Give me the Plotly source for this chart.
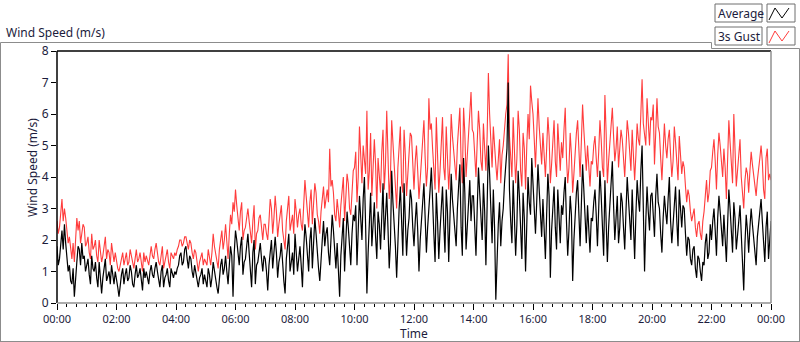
import plotly.graph_objects as go

# Time axis (hours after midnight, 2.5-minute steps, 00:00 .. 24:00)
tick_hours = [0, 2, 4, 6, 8, 10, 12, 14, 16, 18, 20, 22, 24]
tick_labels = ["00:00", "02:00", "04:00", "06:00", "08:00", "10:00", "12:00",
               "14:00", "16:00", "18:00", "20:00", "22:00", "00:00"]
y_ticks = [0, 1, 2, 3, 4, 5, 6, 7, 8]

# Average wind speed (m/s), 24 readings per hour
average = [
    1.8, 1.2, 1.4, 2.0, 2.3, 1.7, 2.5, 1.9, 1.5, 1.0, 1.2, 0.7, 0.6, 1.1, 0.2, 0.9, 1.3, 1.8, 1.7, 1.2, 1.9, 1.4, 1.5, 1.0,
    1.2, 1.4, 0.9, 0.6, 1.5, 1.1, 1.0, 1.3, 0.8, 0.5, 1.3, 0.9, 0.3, 0.8, 1.1, 1.4, 0.7, 0.9, 1.0, 0.6, 1.2, 0.9, 0.6, 1.0,
    0.8, 0.5, 0.2, 0.7, 0.9, 1.1, 0.6, 0.9, 1.1, 0.7, 0.8, 1.2, 1.0, 0.6, 0.5, 0.9, 1.2, 0.8, 0.9, 1.1, 0.7, 0.4, 1.1, 0.8,
    1.0, 0.8, 0.6, 1.0, 1.2, 0.9, 0.8, 1.1, 1.3, 1.0, 0.7, 0.5, 1.0, 1.2, 0.5, 0.8, 0.9, 1.1, 0.7, 0.5, 1.1, 0.9, 0.8, 1.0,
    0.9, 1.1, 1.2, 1.5, 1.6, 1.2, 1.3, 1.7, 1.8, 1.4, 1.1, 1.5, 1.4, 1.0, 0.8, 1.2, 1.0, 0.7, 0.5, 0.8, 0.9, 1.1, 0.6, 0.9,
    0.7, 0.5, 1.1, 0.9, 0.5, 0.8, 1.3, 1.0, 0.8, 0.5, 0.3, 0.9, 1.2, 1.4, 0.9, 1.1, 1.5, 1.0, 0.6, 1.2, 1.8, 1.5, 0.2, 1.6,
    2.3, 2.0, 1.5, 1.2, 1.8, 2.1, 0.9, 1.3, 1.4, 1.8, 2.2, 1.6, 1.1, 0.5, 1.6, 2.0, 0.6, 1.2, 1.3, 1.7, 1.9, 1.4, 1.0, 1.5,
    1.4, 1.0, 0.4, 1.2, 1.7, 2.0, 1.1, 1.5, 2.1, 1.6, 0.8, 1.3, 1.5, 1.9, 1.2, 0.7, 0.3, 1.4, 1.8, 2.2, 1.0, 1.3, 1.6, 0.9,
    2.2, 1.6, 1.0, 1.4, 1.8, 1.2, 0.5, 1.7, 2.5, 2.1, 1.4, 1.0, 2.0, 2.4, 1.1, 1.8, 2.7, 2.2, 1.5, 1.1, 0.7, 1.5, 2.0, 2.6,
    1.8, 2.2, 2.4, 1.6, 1.2, 2.0, 2.8, 2.3, 1.5, 1.1, 1.9, 1.0, 0.2, 1.5, 2.3, 2.7, 1.0, 1.9, 2.9, 2.4, 1.6, 1.2, 2.2, 2.8,
    2.6, 3.1, 1.2, 2.2, 3.4, 2.7, 2.0, 3.3, 4.0, 2.4, 0.3, 1.6, 2.8, 3.5, 1.8, 2.5, 3.2, 2.1, 1.4, 2.9, 2.5, 1.7, 3.0, 3.8,
    2.0, 2.8, 3.5, 2.4, 1.1, 1.9, 4.2, 3.2, 2.6, 1.8, 0.8, 2.1, 3.0, 3.7, 2.2, 1.5, 3.8, 2.9, 1.5, 2.3, 2.7, 3.6, 3.3, 2.4,
    1.8, 2.6, 3.2, 2.3, 1.0, 2.0, 2.5, 3.1, 3.8, 2.7, 1.6, 2.4, 2.9, 3.6, 4.3, 3.0, 2.2, 1.3, 3.5, 2.6, 1.4, 2.3, 3.0, 3.7,
    2.5, 1.6, 3.6, 2.9, 1.3, 2.4, 4.1, 3.3, 2.8, 2.0, 1.8, 3.0, 3.9, 4.4, 2.4, 1.5, 4.6, 3.5, 1.7, 2.6, 3.2, 3.9, 2.6, 3.4,
    3.4, 2.6, 1.5, 3.0, 4.3, 3.5, 2.7, 2.0, 3.8, 2.9, 1.2, 3.3, 5.0, 4.1, 2.8, 1.9, 3.6, 2.4, 0.1, 1.6, 2.5, 3.2, 1.8, 2.6,
    3.0, 3.8, 4.5, 4.9, 7.0, 3.6, 2.6, 1.9, 3.9, 2.8, 1.5, 2.5, 4.2, 3.4, 2.2, 1.4, 3.5, 2.7, 1.0, 2.9, 4.0, 3.2, 2.8, 4.6,
    3.8, 3.0, 2.2, 3.2, 4.4, 3.6, 2.9, 2.1, 3.3, 2.5, 1.4, 2.8, 4.1, 3.4, 0.8, 2.3, 3.0, 3.7, 2.4, 1.7, 3.6, 2.7, 1.9, 3.1,
    2.8, 3.5, 4.0, 2.6, 1.5, 2.3, 3.4, 2.8, 0.7, 2.0, 2.9, 3.5, 3.9, 2.7, 1.8, 3.1, 4.4, 3.6, 2.5, 1.9, 3.1, 2.4, 1.6, 2.7,
    2.6, 3.2, 3.6, 2.8, 1.8, 3.0, 4.2, 3.4, 2.2, 1.5, 3.9, 2.6, 1.3, 2.4, 3.0, 3.8, 4.5, 3.1, 2.0, 2.7, 3.4, 1.9, 2.4, 3.5,
    3.2, 2.4, 1.7, 2.9, 4.0, 3.3, 2.6, 2.0, 3.6, 2.7, 1.4, 2.8, 3.9, 3.3, 2.9, 4.2, 5.0, 3.0, 1.0, 2.6, 3.7, 2.9, 2.3, 3.4,
    3.5, 2.8, 2.1, 3.4, 4.1, 3.2, 3.0, 2.2, 1.6, 2.7, 3.4, 2.9, 2.5, 3.3, 4.0, 2.6, 1.9, 2.5, 3.1, 3.7, 2.6, 1.8, 3.6, 2.9,
    2.4, 3.1, 3.0, 2.2, 1.5, 2.1, 2.0, 1.4, 1.2, 1.7, 1.8, 1.1, 0.8, 1.5, 1.4, 1.0, 0.7, 1.3, 1.2, 1.9, 2.2, 1.4, 1.6, 2.5,
    2.0, 2.6, 3.0, 2.3, 1.5, 2.7, 3.4, 2.9, 2.4, 1.8, 2.8, 2.2, 1.3, 2.5, 3.6, 3.0, 2.2, 1.6, 3.2, 2.7, 1.7, 2.3, 2.6, 3.1,
    2.2, 1.5, 0.4, 1.9, 2.8, 2.3, 1.6, 2.4, 3.0, 2.5, 2.0, 1.5, 1.2, 2.1, 2.6, 3.0, 3.3, 2.6, 1.8, 1.3, 2.4, 2.9, 1.4, 2.0,
    2.6,
]

# 3-second gust (m/s), 24 readings per hour
gust = [
    2.6, 2.2, 2.4, 2.9, 3.3, 2.6, 3.0, 2.7, 2.3, 1.9, 2.1, 1.6, 1.4, 1.9, 1.3, 2.0, 2.7, 2.3, 2.6, 1.9, 2.2, 2.5, 2.4, 1.8,
    1.9, 2.1, 1.6, 1.4, 2.2, 1.7, 1.8, 2.0, 1.5, 1.3, 2.0, 1.6, 1.3, 1.5, 1.8, 2.1, 1.4, 1.7, 1.6, 1.2, 1.9, 1.5, 1.3, 1.6,
    1.3, 1.1, 1.0, 1.2, 1.4, 1.6, 1.2, 1.4, 1.6, 1.2, 1.3, 1.7, 1.5, 1.2, 1.1, 1.4, 1.7, 1.3, 1.4, 1.6, 1.2, 1.0, 1.6, 1.3,
    1.5, 1.3, 1.2, 1.5, 1.8, 1.5, 1.4, 1.7, 1.9, 1.6, 1.3, 1.2, 1.6, 1.8, 1.1, 1.3, 1.5, 1.7, 1.3, 1.1, 1.6, 1.5, 1.4, 1.6,
    1.5, 1.7, 1.8, 2.0, 2.0, 1.8, 1.9, 2.1, 2.1, 1.9, 1.7, 2.0, 1.9, 1.6, 1.4, 1.7, 1.6, 1.3, 1.0, 1.3, 1.5, 1.6, 1.2, 1.4,
    1.3, 1.2, 1.7, 1.5, 1.2, 1.6, 2.2, 1.8, 1.6, 1.3, 1.1, 1.7, 2.0, 2.3, 1.7, 2.0, 2.5, 2.0, 1.4, 2.2, 2.8, 2.5, 3.2, 2.9,
    3.6, 3.1, 2.7, 2.3, 2.9, 3.2, 2.0, 2.3, 2.4, 2.8, 3.0, 2.6, 2.2, 1.9, 2.6, 3.1, 1.7, 2.2, 2.3, 2.7, 2.8, 2.4, 2.0, 2.5,
    2.5, 2.2, 2.0, 2.6, 3.3, 3.0, 2.2, 2.7, 3.4, 2.9, 2.1, 2.5, 2.9, 3.1, 2.3, 2.0, 1.7, 2.6, 3.0, 3.4, 2.3, 2.6, 2.8, 2.2,
    3.3, 2.9, 2.4, 2.8, 3.0, 2.5, 2.3, 3.1, 3.9, 3.4, 2.7, 2.4, 3.2, 3.6, 2.5, 3.0, 3.8, 3.5, 2.8, 2.6, 2.2, 2.9, 3.4, 3.7,
    3.0, 3.4, 3.6, 3.2, 4.9, 3.7, 3.9, 3.5, 2.8, 2.6, 3.3, 2.9, 2.4, 3.1, 3.7, 4.0, 2.6, 3.3, 4.1, 3.8, 3.0, 2.8, 3.6, 4.2,
    4.3, 4.8, 3.2, 4.0, 5.6, 4.5, 3.8, 5.0, 4.6, 4.1, 6.1, 3.6, 4.2, 5.4, 3.4, 4.2, 5.2, 4.4, 3.0, 4.6, 4.1, 3.5, 4.8, 5.5,
    3.6, 4.4, 6.1, 4.2, 3.3, 4.0, 5.8, 5.1, 4.5, 3.8, 3.0, 4.3, 5.0, 5.6, 3.8, 3.5, 5.5, 4.7, 3.4, 4.1, 4.7, 5.4, 5.3, 4.4,
    3.6, 4.5, 5.0, 4.2, 3.3, 3.9, 4.6, 5.2, 5.8, 4.6, 3.7, 4.3, 6.5, 5.5, 5.7, 4.9, 4.3, 3.6, 5.9, 4.8, 3.5, 4.2, 5.2, 5.9,
    4.3, 3.9, 5.6, 4.7, 3.6, 4.4, 6.0, 5.3, 4.8, 4.1, 3.9, 5.0, 5.7, 6.2, 4.5, 3.8, 6.2, 5.4, 4.0, 4.6, 5.2, 5.9, 6.7, 5.5,
    5.4, 4.7, 4.0, 5.1, 6.1, 5.5, 4.5, 4.2, 5.7, 4.9, 4.2, 5.3, 7.3, 6.0, 5.0, 4.3, 5.6, 4.8, 4.4, 3.9, 4.6, 5.2, 3.8, 4.7,
    5.0, 5.6, 6.0, 6.3, 7.9, 5.3, 4.4, 4.0, 5.9, 4.8, 3.8, 4.6, 6.1, 5.5, 4.2, 3.7, 5.4, 4.9, 3.6, 5.0, 6.0, 5.2, 6.9, 6.4,
    6.0, 5.2, 4.3, 5.4, 6.5, 5.6, 5.0, 4.4, 5.4, 4.7, 4.0, 4.9, 5.9, 5.3, 3.8, 4.4, 5.2, 5.8, 4.5, 4.0, 5.7, 4.9, 4.2, 5.1,
    4.6, 5.5, 6.2, 4.6, 3.8, 4.3, 5.4, 4.7, 3.5, 4.1, 4.9, 5.4, 5.8, 4.8, 4.0, 5.1, 6.3, 5.5, 4.8, 4.2, 5.0, 4.4, 3.7, 4.5,
    4.4, 5.0, 5.3, 4.6, 4.0, 4.8, 5.8, 5.2, 4.3, 4.0, 6.6, 5.4, 3.8, 4.5, 5.1, 5.7, 6.2, 5.3, 4.5, 4.9, 5.6, 4.3, 5.0, 5.5,
    5.2, 4.5, 4.0, 4.9, 5.8, 5.4, 4.6, 4.2, 5.5, 4.8, 3.9, 4.7, 5.7, 5.2, 5.0, 6.0, 7.1, 5.7, 5.3, 5.0, 6.5, 5.6, 5.0, 5.9,
    5.8, 6.3, 4.4, 5.4, 6.5, 5.6, 5.4, 4.6, 3.9, 4.8, 5.7, 5.0, 4.6, 5.2, 5.5, 4.7, 4.0, 4.5, 5.6, 5.1, 4.5, 3.9, 5.3, 4.6,
    4.1, 4.5, 4.3, 3.7, 3.2, 3.6, 3.4, 2.9, 2.6, 2.8, 3.0, 2.4, 2.1, 2.5, 2.6, 2.2, 2.0, 2.6, 2.9, 3.4, 3.9, 3.2, 3.5, 4.2,
    4.3, 4.8, 5.2, 4.5, 3.6, 4.7, 5.4, 5.0, 4.6, 4.0, 4.9, 4.3, 3.3, 4.4, 5.8, 5.1, 4.4, 3.8, 6.0, 5.0, 3.7, 4.2, 4.8, 5.2,
    4.0, 3.6, 3.0, 3.9, 4.3, 4.1, 3.5, 4.2, 4.8, 4.4, 4.0, 3.6, 3.4, 3.9, 4.2, 4.6, 5.0, 4.5, 3.6, 3.3, 4.6, 4.9, 3.9, 4.1,
    3.9,
]

hours = [i * 2.5 / 60 for i in range(len(average))]

FONT = "Noto Sans"
TXT = "#1c1c3c"
W, H = 800, 342
L, R, T, B = 57, 771, 51, 303   # plot area in pixels


def px(x):
    return (x - L) / (R - L)


def py(y):
    return (B - y) / (B - T)


fig = go.Figure()
fig.add_trace(go.Scatter(x=hours, y=gust, mode="lines", name="3s Gust",
                         line=dict(color="#ff3c3c", width=1.1), showlegend=False))
fig.add_trace(go.Scatter(x=hours, y=average, mode="lines", name="Average",
                         line=dict(color="#000000", width=1.2), showlegend=False))

shapes = []
# outer frame with notch for legend
shapes.append(dict(type="path", xref="paper", yref="paper",
                   path=f"M {px(0.5)} {py(342)} L {px(0.5)} {py(42.5)} L {px(711.5)} {py(42.5)} "
                        f"L {px(711.5)} {py(48.5)} L {px(799.5)} {py(48.5)} L {px(799.5)} {py(342)}",
                   line=dict(color="#8c8c8c", width=1)))
shapes.append(dict(type="line", xref="paper", yref="paper", x0=px(0), x1=px(800), y0=py(341.5), y1=py(341.5),
                   line=dict(color="#8c8c8c", width=1)))
# plot border: black top/left, grey bottom/right
shapes.append(dict(type="line", xref="paper", yref="paper", x0=0, x1=1, y0=1, y1=1,
                   line=dict(color="#000000", width=1.5)))
shapes.append(dict(type="line", xref="paper", yref="paper", x0=0, x1=0, y0=0, y1=1,
                   line=dict(color="#000000", width=1.5)))
shapes.append(dict(type="line", xref="paper", yref="paper", x0=0, x1=1, y0=0, y1=0,
                   line=dict(color="#909090", width=1.5)))
shapes.append(dict(type="line", xref="paper", yref="paper", x0=1, x1=1, y0=0, y1=1,
                   line=dict(color="#909090", width=1.5)))

# legend boxes
legend_rows = [("Average", "#000000", 4), ("3s Gust", "#ff3c3c", 27)]
annotations = []
for label, color, top in legend_rows:
    shapes.append(dict(type="rect", xref="paper", yref="paper",
                       x0=px(715), x1=px(762), y0=py(top), y1=py(top + 18),
                       line=dict(color="#6e6e6e", width=1), fillcolor="#ffffff"))
    shapes.append(dict(type="rect", xref="paper", yref="paper",
                       x0=px(767), x1=px(795), y0=py(top), y1=py(top + 18),
                       line=dict(color="#6e6e6e", width=1), fillcolor="#ffffff"))
    shapes.append(dict(type="path", xref="paper", yref="paper",
                       path=f"M {px(769)} {py(top + 16)} L {px(775)} {py(top + 4)} L {px(782)} {py(top + 14)} "
                            f"L {px(789)} {py(top + 4)}",
                       line=dict(color=color, width=1)))
    annotations.append(dict(x=px(716), y=py(top + 9), xref="paper", yref="paper", text=label,
                            showarrow=False, xanchor="left", yanchor="middle",
                            font=dict(family=FONT, size=12, color=TXT)))

annotations.append(dict(x=px(4), y=py(32), xref="paper", yref="paper", text="Wind Speed (m/s)",
                        showarrow=False, xanchor="left", yanchor="middle",
                        font=dict(family=FONT, size=12, color=TXT)))
# axis titles
annotations.append(dict(x=px(414), y=py(333), xref="paper", yref="paper", text="Time",
                        showarrow=False, xanchor="center", yanchor="middle",
                        font=dict(family=FONT, size=12, color=TXT)))
annotations.append(dict(x=px(32), y=py(168), xref="paper", yref="paper", text="Wind Speed (m/s)",
                        showarrow=False, xanchor="center", yanchor="middle", textangle=-90,
                        font=dict(family=FONT, size=12, color=TXT)))

fig.update_layout(
    width=W, height=H,
    margin=dict(l=L, r=W - R, t=T, b=H - B),
    paper_bgcolor="#ffffff", plot_bgcolor="#ffffff",
    shapes=shapes, annotations=annotations,
    xaxis=dict(range=[0, 24], tickvals=tick_hours, ticktext=tick_labels, automargin=False,
               showgrid=False, zeroline=False, showline=False,
               ticks="outside", ticklen=6, tickcolor="#000000", tickwidth=1,
               minor=dict(dtick=1 / 3, tick0=0, ticks="outside", ticklen=3, tickcolor="#000000", showgrid=False),
               tickfont=dict(family=FONT, size=11, color=TXT)),
    yaxis=dict(range=[0, 8], tickvals=y_ticks, automargin=False,
               showgrid=False, zeroline=False, showline=False,
               ticks="outside", ticklen=5, tickcolor="#000000", tickwidth=1,
               tickfont=dict(family=FONT, size=12, color=TXT)),
)

post = (
    "var s=document.createElement('style');"
    "s.innerHTML='html,body{margin:0;padding:0;overflow:hidden;height:342px;width:800px}"
    "body>div{height:342px;overflow:hidden}';"
    "document.head.appendChild(s);"
)
fig.write_html("out.html", config={"displayModeBar": False}, post_script=post)
